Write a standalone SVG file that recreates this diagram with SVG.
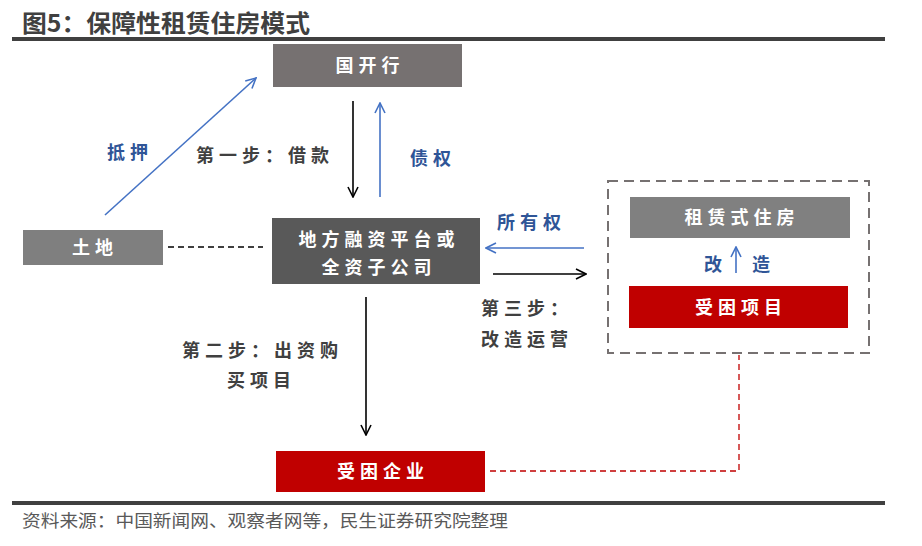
<svg xmlns="http://www.w3.org/2000/svg" width="922" height="546" viewBox="0 0 922 546">
<defs>
<style>
text{font-family:"Noto Sans CJK SC","Noto Sans",sans-serif;}
.title{font-size:24px;font-weight:bold;fill:#404040;}
.box{font-size:18px;font-weight:bold;fill:#ffffff;letter-spacing:5px;}
.lbl{font-size:18px;font-weight:bold;fill:#404040;letter-spacing:5px;}
.blbl{font-size:18px;font-weight:bold;fill:#2f5597;letter-spacing:5px;}
.src{font-size:17px;fill:#595959;}
.blk{stroke:#000;stroke-width:1.6;fill:none;}
.blu{stroke:#4472c4;stroke-width:1.6;fill:none;}
</style>
<marker id="ab" viewBox="0 0 12 12" refX="11" refY="6" markerWidth="12" markerHeight="12" markerUnits="userSpaceOnUse" orient="auto"><path d="M1,1 L11,6 L1,11" fill="none" stroke="#000" stroke-width="1.6"/></marker>
<marker id="au" viewBox="0 0 12 12" refX="11" refY="6" markerWidth="12" markerHeight="12" markerUnits="userSpaceOnUse" orient="auto"><path d="M1,1 L11,6 L1,11" fill="none" stroke="#4472c4" stroke-width="1.6"/></marker>
</defs>
<rect width="922" height="546" fill="#ffffff"/>
<text class="title" x="22" y="32" textLength="288" lengthAdjust="spacingAndGlyphs">图5：保障性租赁住房模式</text>
<rect x="12" y="37" width="873" height="4" fill="#404040"/>
<rect x="12" y="501" width="873" height="4" fill="#404040"/>
<text class="src" x="22" y="527" textLength="486" lengthAdjust="spacingAndGlyphs">资料来源：中国新闻网、观察者网等，民生证券研究院整理</text>

<g id="connectors">
<line class="blk" x1="353" y1="101" x2="353" y2="197" marker-end="url(#ab)"/>
<line class="blu" x1="380" y1="197" x2="380" y2="103" marker-end="url(#au)"/>
<line class="blu" x1="105" y1="215" x2="256" y2="78" marker-end="url(#au)"/>
<line x1="168" y1="247" x2="263" y2="247" stroke="#000" stroke-width="1.3" stroke-dasharray="6,4"/>
<line class="blu" x1="584" y1="248" x2="486" y2="248" marker-end="url(#au)"/>
<line class="blk" x1="493" y1="274" x2="586" y2="274" marker-end="url(#ab)"/>
<line class="blk" x1="366" y1="297" x2="366" y2="435" marker-end="url(#ab)"/>
<line class="blu" x1="736" y1="273" x2="736" y2="247" marker-end="url(#au)"/>
<polyline points="490,471 739,471 739,355" fill="none" stroke="#c00000" stroke-width="1.3" stroke-dasharray="6,4"/>
</g>

<g id="dashed-group"><rect x="608" y="181" width="261" height="172" fill="none" stroke="#767171" stroke-width="2" stroke-dasharray="10,6"/></g>

<g id="guokaihang"><rect x="273" y="44" width="189" height="43" fill="#767171"/><text class="box" x="370" y="72" text-anchor="middle">国开行</text></g>
<g id="tudi"><rect x="23" y="230" width="140" height="35" fill="#7f7f7f"/><text class="box" x="95" y="254" text-anchor="middle">土地</text></g>
<g id="pingtai"><rect x="272" y="218" width="208" height="66" fill="#595959"/><text class="box" x="379" y="246" text-anchor="middle">地方融资平台或</text><text class="box" x="379" y="274" text-anchor="middle">全资子公司</text></g>
<g id="zulin"><rect x="630" y="197" width="220" height="41" fill="#808080"/><text class="box" x="742" y="224" text-anchor="middle">租赁式住房</text></g>
<g id="shoukunxiangmu"><rect x="629" y="286" width="219" height="42" fill="#c00000"/><text class="box" x="741" y="314" text-anchor="middle">受困项目</text></g>
<g id="shoukunqiye"><rect x="276" y="451" width="209" height="41" fill="#c00000"/><text class="box" x="383" y="478" text-anchor="middle">受困企业</text></g>

<g id="labels">
<text class="blbl" x="107" y="159">抵押</text>
<text class="lbl" x="196" y="162">第一步：借款</text>
<text class="blbl" x="410" y="165">债权</text>
<text class="blbl" x="497" y="229">所有权</text>
<text class="blbl" x="704" y="271">改</text>
<text class="blbl" x="752" y="271">造</text>
<text class="lbl" x="481" y="315">第三步：</text>
<text class="lbl" x="481" y="346">改造运营</text>
<text class="lbl" x="182" y="357">第二步：出资购</text>
<text class="lbl" x="227" y="387">买项目</text>
</g>
</svg>
